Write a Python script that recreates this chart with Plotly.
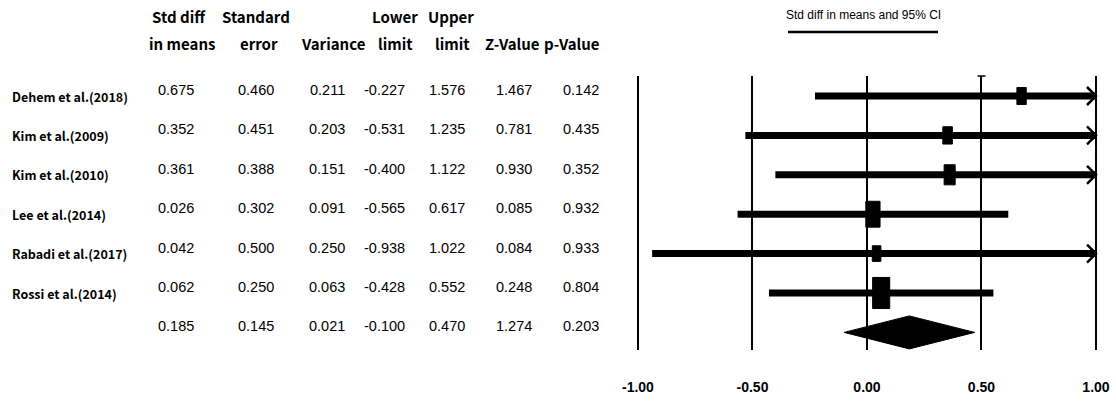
import plotly.graph_objects as go

studies = ["Dehem et al.(2018)", "Kim et al.(2009)", "Kim et al.(2010)", "Lee et al.(2014)",
           "Rabadi et al.(2017)", "Rossi et al.(2014)"]
std_diff = [0.675, 0.352, 0.361, 0.026, 0.042, 0.062]
std_err = [0.460, 0.451, 0.388, 0.302, 0.500, 0.250]
variance = [0.211, 0.203, 0.151, 0.091, 0.250, 0.063]
lower = [-0.227, -0.531, -0.400, -0.565, -0.938, -0.428]
upper = [1.576, 1.235, 1.122, 0.617, 1.022, 0.552]
z_value = [1.467, 0.781, 0.930, 0.085, 0.084, 0.248]
p_value = [0.142, 0.435, 0.352, 0.932, 0.933, 0.804]

summary = {"std_diff": 0.185, "std_err": 0.145, "variance": 0.021, "lower": -0.100,
           "upper": 0.470, "z": 1.274, "p": 0.203}

header1 = ["Std diff", "Standard", "", "Lower", "Upper", "", ""]
header2 = ["in means", "error", "Variance", "limit", "limit", "Z-Value", "p-Value"]
tick_vals = [-1.0, -0.5, 0.0, 0.5, 1.0]
tick_text = ["-1.00", "-0.50", "0.00", "0.50", "1.00"]
axis_title = "Std diff in means and 95% CI"

W, H = 1116, 403
TOP, BOT = 76, 350
XMIN, XMAX = -1.05, 1.05
ROW0_PX, ROW_PX = 96, 39.4
span_units = (BOT - TOP) / ROW_PX
y_top = (ROW0_PX - TOP) / ROW_PX
yrange = [y_top - span_units, y_top]


def px_x(p):
    return p / W


def px_y(p):
    return (BOT - p) / (BOT - TOP)


VALF = "Liberation Sans, Arial, sans-serif"
BOLDF = "Noto Sans CJK KR, Malgun Gothic, Noto Sans, sans-serif"

fig = go.Figure()
shapes = []
annotations = []

n = len(studies)
for i in range(n):
    y = -i
    lo = max(lower[i], tick_vals[0])
    hi = min(upper[i], tick_vals[-1])
    fig.add_trace(go.Scatter(x=[lo, hi], y=[y, y], mode="lines",
                             line=dict(color="black", width=7), hoverinfo="skip",
                             showlegend=False))
    weight = 1.0 / variance[i]
    h = 7.8 * weight ** 0.5
    w = 0.55 * h
    shapes.append(dict(type="rect", xref="x", yref="y", xsizemode="pixel", ysizemode="pixel",
                       xanchor=std_diff[i], yanchor=y, x0=-w / 2, x1=w / 2, y0=-h / 2, y1=h / 2,
                       fillcolor="black", line=dict(color="black", width=1)))
    if upper[i] > tick_vals[-1]:
        shapes.append(dict(type="path", xref="x", yref="y", xsizemode="pixel", ysizemode="pixel",
                           xanchor=tick_vals[-1], yanchor=y, path="M -9,9 L 0,0 L -9,-9",
                           line=dict(color="black", width=2.5)))

# summary diamond
ys = -n
dh = 16.5 / ROW_PX
path = (f"M {summary['lower']},{ys} L {summary['std_diff']},{ys + dh} "
        f"L {summary['upper']},{ys} L {summary['std_diff']},{ys - dh} Z")
shapes.append(dict(type="path", xref="x", yref="y", path=path, fillcolor="black",
                   line=dict(color="black", width=1)))

# small cap on 0.50 line
shapes.append(dict(type="line", xref="x", yref="paper", xsizemode="pixel", xanchor=tick_vals[3],
                   x0=-4, x1=4, y0=1, y1=1, line=dict(color="black", width=1.5)))

# title + underline
annotations.append(dict(text=axis_title, xref="paper", yref="paper", x=px_x(863), y=px_y(15),
                        showarrow=False, xanchor="center", yanchor="middle",
                        font=dict(family=VALF, size=12, color="black")))
shapes.append(dict(type="line", xref="paper", yref="paper", x0=px_x(788), x1=px_x(938),
                   y0=px_y(32), y1=px_y(32), line=dict(color="black", width=2.5)))

# table
head_x1 = [179, 256, 333, 395, 451, 512, 572]
head_x2 = [182, 259, 333, 395, 452, 512, 572]
col_x = [176, 256, 327, 384, 447, 514, 581]
for j in range(7):
    if header1[j]:
        annotations.append(dict(text=header1[j], xref="paper", yref="paper", x=px_x(head_x1[j]),
                                y=px_y(16), showarrow=False, xanchor="center", yanchor="middle",
                                font=dict(family=BOLDF, size=15, color="black", weight="bold")))
    annotations.append(dict(text=header2[j], xref="paper", yref="paper", x=px_x(head_x2[j]),
                            y=px_y(44), showarrow=False, xanchor="center", yanchor="middle",
                            font=dict(family=BOLDF, size=15, color="black", weight="bold")))

cols = [std_diff, std_err, variance, lower, upper, z_value, p_value]
sum_keys = ["std_diff", "std_err", "variance", "lower", "upper", "z", "p"]
for i in range(n + 1):
    y = -i
    if i < n:
        annotations.append(dict(text=studies[i], xref="paper", yref="y", x=px_x(10), y=y,
                                showarrow=False, xanchor="left", yanchor="middle", yshift=0,
                                font=dict(family=BOLDF, size=12.5, color="black", weight="bold")))
    for j in range(7):
        v = cols[j][i] if i < n else summary[sum_keys[j]]
        annotations.append(dict(text=f"{v:.3f}", xref="paper", yref="y", x=px_x(col_x[j]), y=y,
                                showarrow=False, xanchor="center", yanchor="middle", yshift=6,
                                font=dict(family=VALF, size=14.5, color="black")))

fig.update_layout(
    width=W, height=H, margin=dict(l=0, r=0, t=TOP, b=H - BOT, autoexpand=False),
    paper_bgcolor="white", plot_bgcolor="white",
    shapes=shapes, annotations=annotations, showlegend=False,
    xaxis=dict(domain=[px_x(637.95 - 0.05 * 229.05), px_x(1096 + 0.05 * 229.05)],
               range=[XMIN, XMAX], tickvals=tick_vals, ticktext=tick_text,
               showgrid=True, gridcolor="black", gridwidth=1.7, zeroline=False, showline=False,
               ticks="", ticklabelstandoff=27, automargin=False,
               tickfont=dict(family=VALF, size=14, color="black", weight="bold"),
               fixedrange=True),
    yaxis=dict(range=yrange, visible=False, showgrid=False, zeroline=False, fixedrange=True,
               automargin=False),
)

fig.write_html("out.html", config={"displayModeBar": False},
               post_script="document.body.style.margin='0';document.body.style.padding='0';")
